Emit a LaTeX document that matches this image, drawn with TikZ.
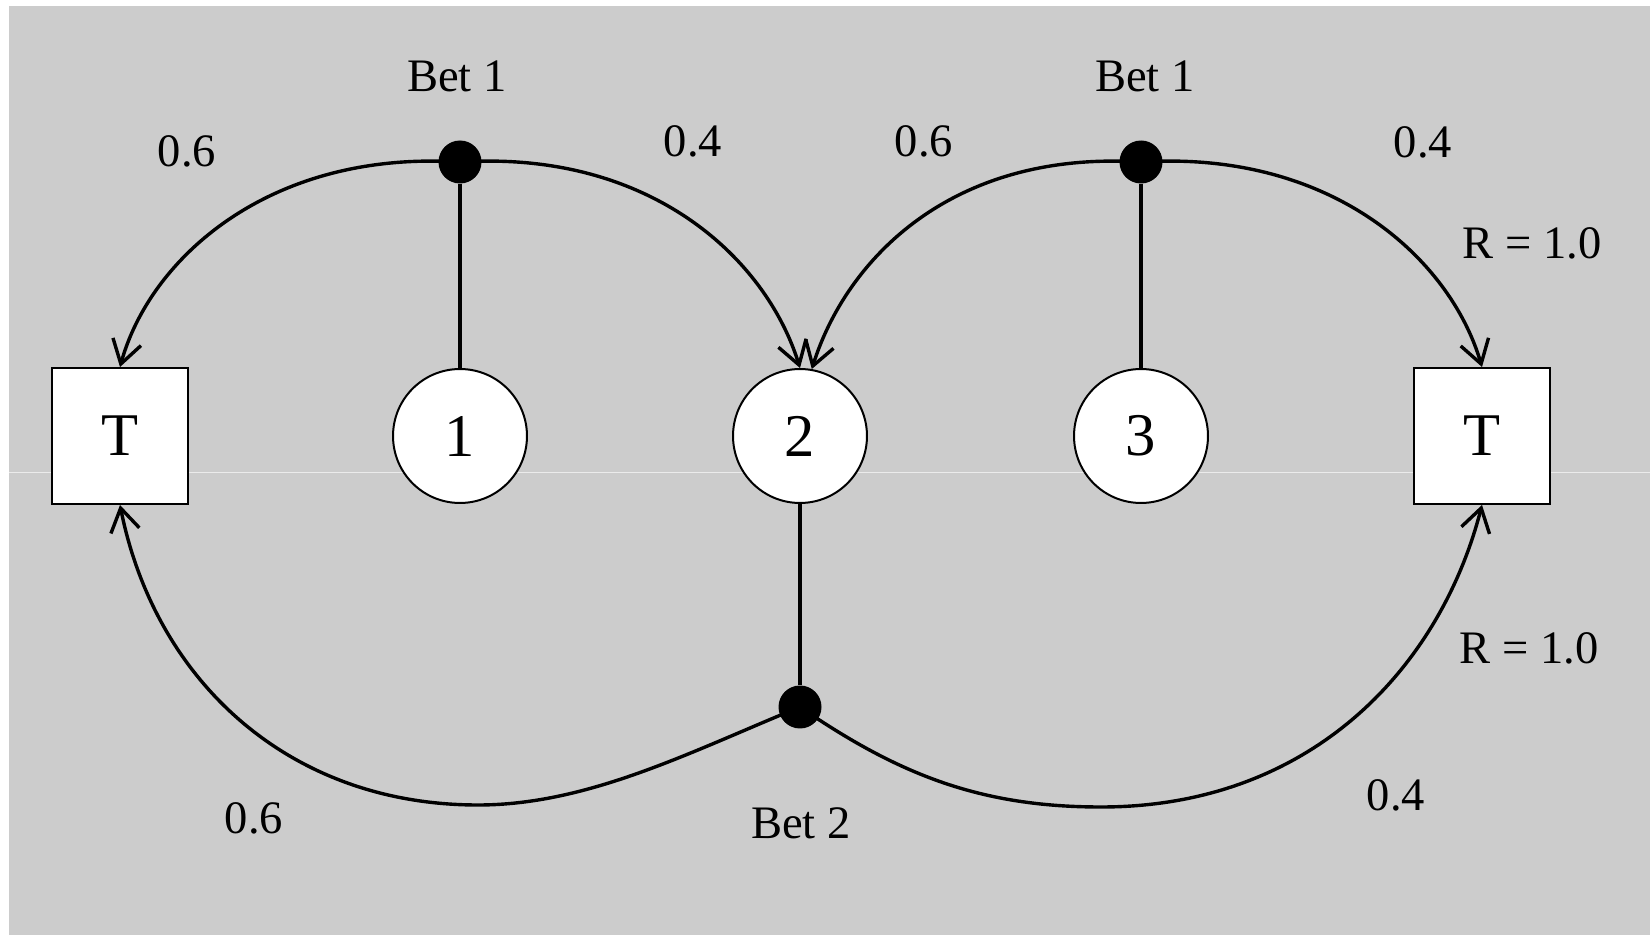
\documentclass[tikz,border=0pt]{standalone}
\usepackage{fontspec}
\setmainfont{Liberation Serif}
\usetikzlibrary{arrows.meta}
\definecolor{bggray}{RGB}{204,204,204}
\begin{document}
\begin{tikzpicture}[x=0.02cm,y=-0.02cm,
  statebox/.style={draw=black, fill=white, line width=0.04cm, minimum size=2.72cm, inner sep=0pt, font=\fontsize{34.5}{38}\selectfont},
  statecirc/.style={circle, draw=black, fill=white, line width=0.04cm, minimum size=2.68cm, inner sep=0pt, font=\fontsize{34.5}{38}\selectfont},
  betdot/.style={circle, fill=black, minimum size=0.86cm, inner sep=0pt},
  lbl/.style={font=\fontsize{26.5}{30}\selectfont, inner sep=0pt},
  trans/.style={line width=0.068cm, -{Straight Barb[length=0.46cm,width=0.58cm]}},
  stem/.style={line width=0.068cm}]
\useasboundingbox (0,0) rectangle (1650,935);
\fill[white] (0,0) rectangle (1650,935);
\fill[bggray] (9,6) rectangle (1650,935);
\draw[line width=0.02cm, white!60!bggray] (9,473) -- (1650,473);

% nodes
\node[statebox] (tl) at (120,436) {T};
\node[statecirc] (c1) at (460,436) {1};
\node[statecirc] (c2) at (800,436) {2};
\node[statecirc] (c3) at (1141,436) {3};
\node[statebox] (tr) at (1482,436) {T};
\node[betdot] (d1) at (460,162) {};
\node[betdot] (d3) at (1141,162) {};
\node[betdot] (d2) at (800,707) {};

% stems
\draw[stem] (d1) -- (c1);
\draw[stem] (d3) -- (c3);
\draw[stem] (c2) -- (d2);

% transitions
\draw[trans] (d1.center) .. controls (270,150) and (150,258) .. (tl.north);
\draw[trans] (d1.center) .. controls (650,150) and (766,258) .. (c2.north);
\draw[trans] (d3.center) .. controls (951,150) and (846,260) .. (c2.80);
\draw[trans] (d3.center) .. controls (1331,150) and (1450,258) .. (tr.north);
\draw[trans] (d2.center) .. controls (690,752) and (588,805) .. (478,805)
  .. controls (288,805) and (155,680) .. (tl.south);
\draw[trans] (d2.center) .. controls (899,775) and (981,807) .. (1101,807)
  .. controls (1311,807) and (1440,668) .. (tr.south);

% labels
\node[lbl] (bet1a) at (457,76) {Bet 1};
\node[lbl] (bet1b) at (1145,76) {Bet 1};
\node[lbl] (bet2) at (801,823) {Bet 2};
\node[lbl] (p1) at (187,151) {0.6};
\node[lbl] (p2) at (693,141) {0.4};
\node[lbl] (p3) at (924,141) {0.6};
\node[lbl] (p4) at (1423,142) {0.4};
\node[lbl] (r1) at (1532,243) {R = 1.0};
\node[lbl] (r2) at (1529,648) {R = 1.0};
\node[lbl] (p5) at (1396,795) {0.4};
\node[lbl] (p6) at (254,818) {0.6};
\end{tikzpicture}
\end{document}
